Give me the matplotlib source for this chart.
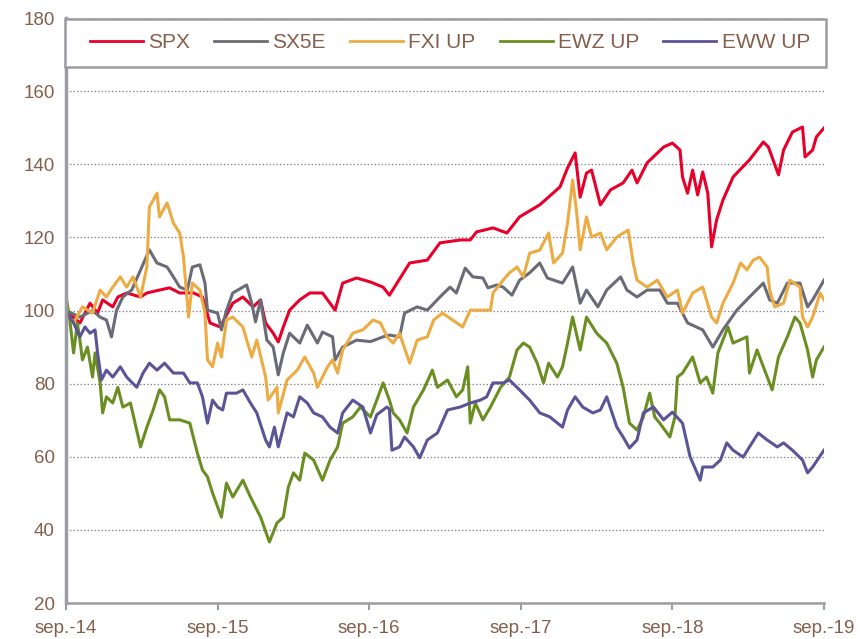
import matplotlib
matplotlib.use("Agg")
import matplotlib.pyplot as plt
from matplotlib.patches import Rectangle

# temps en mois depuis sep.-14 (base 100)
spx_t = [0, 1.1, 1.9, 2.5, 2.9, 3.7, 4.1, 4.8, 5.9, 6.4, 7.4, 8.2, 9.0, 10.1, 10.8,
         11.4, 12.2, 13.2, 14.0, 14.8, 15.4, 15.8, 16.4, 16.8, 17.2, 17.7, 18.5, 19.3,
         20.3, 21.3, 21.9, 23.0, 24.1, 25.1, 25.6, 27.2, 28.6, 29.6, 31.2, 32.0, 32.5,
         33.8, 34.9, 35.9, 37.5, 39.1, 39.7, 40.3, 40.7, 41.2, 41.6, 42.3, 43.1, 44.1,
         44.8, 45.2, 46.0, 47.3, 48.0, 48.6, 48.8, 49.2, 49.6, 50.0, 50.4, 50.8, 51.1,
         51.5, 52.0, 52.8, 54.1, 55.2, 55.6, 56.4, 56.8, 57.5, 58.3, 58.5, 59.1, 59.4, 60]
spx_v = [100, 96.6, 102, 99.3, 102.9, 101, 103.7, 104.8, 103.7, 104.8, 105.6, 106.2,
         104.8, 104.8, 103.7, 96.6, 95.5, 102, 103.7, 101, 102.9, 96.6, 93.8, 91.4, 95.5,
         100.1, 102.9, 104.8, 104.8, 100.1, 107.5, 108.9, 107.8, 106.4, 104.2, 113, 113.8,
         118.5, 119.3, 119.3, 121.5, 122.6, 121.2, 125.6, 128.9, 133.8, 139, 143.1, 131,
         137.6, 138.4, 128.9, 133, 134.9, 138.4, 134.9, 140.4, 144.7, 145.8, 143.9, 136.5,
         132.1, 138.4, 131.6, 137.9, 132.1, 117.4, 124.8, 130.2, 136.5, 141.2, 146.1,
         144.7, 137.1, 143.9, 148.8, 150.2, 142, 143.9, 147.5, 149.9]

sx5e_t = [0, 1.1, 2.1, 2.7, 3.2, 3.6, 4.0, 4.5, 5.2, 5.9, 6.6, 7.2, 8.0, 8.5, 9.0, 9.6,
          10.0, 10.6, 11.0, 11.2, 12.0, 12.3, 12.7, 13.2, 14.3, 14.7, 15.0, 15.4, 15.9,
          16.4, 16.8, 17.2, 17.7, 18.5, 19.1, 19.9, 20.3, 21.1, 21.3, 21.9, 23.0, 24.1,
          25.1, 25.6, 26.4, 26.8, 27.8, 28.6, 29.6, 30.4, 30.9, 31.6, 32.2, 33.0, 33.4,
          34.1, 34.6, 35.3, 35.9, 36.7, 37.5, 38.1, 39.3, 40.1, 40.7, 41.2, 42.1, 42.8,
          43.9, 44.4, 45.2, 46.0, 47.0, 47.6, 48.4, 49.2, 49.9, 50.4, 51.2, 52.0, 53.1,
          54.1, 55.2, 55.7, 56.3, 57.1, 58.1, 58.7, 59.1, 60]
sx5e_v = [100, 98.2, 100, 98.2, 97.4, 92.8, 100, 103.7, 105.6, 111.1, 116.6, 113, 111.9,
          109.2, 106.4, 105.6, 111.9, 112.5, 107.5, 100.1, 99.3, 94.7, 100, 104.8, 107,
          102, 96.9, 102.9, 91.9, 90, 82.4, 88.4, 93.8, 91.1, 96, 91.1, 94.1, 92.8, 86.5,
          90, 91.9, 91.5, 92.8, 93.3, 92.8, 99.3, 101, 100.1, 103.7, 106.4, 104.8, 111.6,
          109.2, 108.9, 106.2, 107, 106.4, 104.2, 108.3, 110.3, 113, 108.9, 107.5, 111.9,
          102, 105.6, 101, 105.6, 109.2, 105.6, 103.7, 105.6, 105.6, 102, 102, 96.6, 95.5,
          94.7, 90, 94.7, 100.1, 103.7, 107.5, 102.9, 102, 107.5, 107.5, 101, 102.9, 108.3]

fxi_t = [0, 0.6, 1.3, 2.1, 2.7, 3.2, 3.7, 4.3, 4.8, 5.3, 5.9, 6.4, 6.6, 7.2, 7.4, 8.0,
         8.5, 9.0, 9.3, 9.7, 10.0, 10.6, 11.0, 11.2, 11.6, 12.0, 12.3, 12.7, 13.2, 14.0,
         14.7, 15.1, 15.8, 16.0, 16.7, 16.8, 17.5, 18.3, 18.9, 19.6, 19.9, 20.7, 21.1,
         21.5, 21.9, 22.7, 23.5, 24.3, 24.9, 25.4, 25.9, 26.4, 27.2, 27.8, 28.6, 29.1,
         29.8, 30.6, 31.4, 32.0, 32.8, 33.6, 33.8, 34.6, 35.1, 35.7, 36.2, 36.7, 37.5,
         38.2, 38.6, 39.3, 39.7, 40.1, 40.4, 40.7, 41.2, 41.6, 42.3, 42.8, 43.6, 44.5,
         44.9, 45.2, 46.0, 46.8, 47.6, 48.4, 48.8, 49.6, 50.4, 51.1, 51.5, 52.0, 52.8,
         53.4, 53.9, 54.4, 54.9, 55.5, 55.7, 56.1, 56.8, 57.3, 58.1, 58.3, 58.7, 59.1,
         59.7, 60]
fxi_v = [100, 96.6, 101, 99.3, 105.6, 103.7, 106.4, 109.2, 106.4, 109.2, 103.7, 111.9,
         128.3, 132.1, 125.6, 129.4, 123.9, 121.2, 114.6, 98.2, 107.5, 105.6, 99.3, 86.5,
         84.6, 91.1, 87.3, 97.4, 98.2, 95.5, 87.3, 91.9, 81.8, 75.5, 79, 72, 81, 83.7,
         87.3, 82.9, 79, 84.6, 86.5, 82.9, 89.2, 93.8, 94.7, 97.4, 96.6, 92.8, 91.1, 93.8,
         85.6, 91.9, 92.8, 97.4, 99.3, 97.4, 95.5, 100.1, 100.1, 100.1, 104.8, 108.3,
         110.3, 111.9, 109.2, 115.7, 116.5, 121.2, 113, 115.7, 123.9, 135.7, 127.5, 116.6,
         125.6, 120.1, 121.2, 116.6, 120.1, 122, 113, 108.3, 106.4, 108.3, 103.7, 105.6,
         99.3, 104.8, 106.4, 98.2, 96.6, 102, 107.5, 113, 111.1, 113.8, 114.6, 111.9,
         105.6, 101, 102, 108.3, 106.4, 98.2, 95.5, 98.2, 104.8, 102.9]

ewz_t = [0, 0.3, 0.6, 0.9, 1.1, 1.3, 1.7, 2.1, 2.3, 2.7, 2.9, 3.2, 3.7, 4.1, 4.5, 5.1,
         5.9, 6.4, 6.9, 7.4, 7.8, 8.2, 9.0, 9.8, 10.4, 10.8, 11.2, 11.6, 12.3, 12.7, 13.2,
         14.0, 14.6, 15.4, 16.1, 16.7, 17.2, 17.6, 18.0, 18.5, 18.9, 19.6, 20.3, 20.9,
         21.5, 21.9, 22.7, 23.3, 24.1, 24.6, 25.1, 25.6, 25.9, 26.4, 27.0, 27.5, 28.3,
         29.0, 29.4, 30.2, 30.9, 31.4, 31.8, 32.0, 32.4, 33.0, 33.6, 34.4, 35.1, 35.7,
         36.2, 36.7, 37.3, 37.8, 38.2, 38.9, 39.3, 39.7, 40.1, 40.7, 41.2, 42.0, 42.8,
         43.6, 44.1, 44.6, 45.2, 45.7, 46.2, 46.6, 47.0, 47.8, 48.2, 48.4, 48.8, 49.6,
         50.2, 50.7, 51.2, 51.6, 52.4, 52.8, 53.9, 54.1, 54.7, 55.2, 55.9, 56.4, 57.1,
         57.7, 58.1, 58.7, 59.1, 59.4, 60]
ewz_v = [104, 97.4, 88.4, 96.6, 91.9, 86.5, 90, 81.8, 88.4, 80.2, 72, 76.4, 74.7, 79,
         73.6, 74.7, 62.7, 68.1, 72.8, 78.3, 76.4, 70.1, 70.1, 69.2, 61, 56.4, 54.5, 50.1,
         43.5, 52.8, 49, 53.6, 49, 43.5, 36.7, 41.9, 43.5, 51.7, 55.6, 53.6, 61, 59.1,
         53.6, 59.1, 62.7, 69.2, 70.9, 73.6, 70.9, 75.5, 80.2, 75.5, 72, 70.1, 66.5, 73.6,
         78.3, 83.7, 79, 81, 76.4, 78.3, 84.6, 69.2, 74.7, 70.1, 73.6, 79, 81.8, 89.2,
         91.1, 90, 85.6, 80.2, 85.6, 81.8, 84.6, 91.1, 98.2, 89.2, 98.2, 93.8, 91.1, 85.6,
         79, 69.2, 67.3, 70.9, 77.4, 70.9, 69.2, 65.4, 70.9, 81.8, 82.9, 87.3, 80.2, 81.8,
         77.4, 88.4, 95.5, 91.1, 92.8, 82.9, 89.2, 84.6, 78.3, 87.3, 92.8, 98.2, 96.6,
         89.2, 81.8, 86.5, 90]

eww_t = [0, 0.6, 1.1, 1.5, 1.9, 2.3, 2.5, 2.8, 3.2, 3.7, 4.3, 4.8, 5.6, 6.1, 6.6, 7.2,
         7.8, 8.5, 9.3, 9.8, 10.4, 10.8, 11.2, 11.6, 12.0, 12.4, 12.7, 13.5, 14.0, 14.6,
         15.1, 15.8, 16.1, 16.5, 16.8, 17.5, 18.0, 18.5, 19.1, 19.6, 20.3, 20.9, 21.5,
         21.9, 22.7, 23.5, 24.1, 24.6, 25.4, 25.6, 25.8, 26.4, 26.8, 27.5, 28.0, 28.6,
         29.4, 30.2, 31.2, 32.0, 32.8, 33.3, 33.8, 34.6, 35.1, 35.9, 36.7, 37.5, 38.3,
         39.3, 39.7, 40.3, 40.9, 41.7, 42.3, 42.8, 43.6, 44.1, 44.6, 45.2, 45.7, 46.5,
         47.3, 48.0, 48.8, 49.4, 50.2, 50.4, 51.2, 51.8, 52.3, 52.8, 53.6, 54.1, 54.8,
         55.5, 56.3, 56.8, 57.5, 58.3, 58.7, 59.1, 60]
eww_v = [100, 96.6, 92.8, 95.5, 93.8, 94.7, 88.4, 81, 83.7, 81.8, 84.6, 81.8, 79, 82.9,
         85.6, 83.7, 85.6, 82.9, 82.9, 80.2, 80.2, 76.4, 69.2, 75.5, 73.6, 72.8, 77.4,
         77.4, 78.3, 74.7, 72, 64.6, 62.7, 68.1, 62.7, 72, 70.9, 76.4, 74.7, 72, 70.9,
         68.1, 66.5, 72, 75.5, 73.6, 66.5, 71.5, 73.6, 73, 61.8, 62.7, 65.4, 62.7, 59.7,
         64.6, 66.5, 72.8, 73.6, 74.7, 75.5, 76.4, 80.2, 80.2, 81, 78.3, 75.5, 72, 70.9,
         68.1, 72.8, 76.4, 73.6, 72, 72.8, 76.4, 68.1, 65.4, 62.4, 64.6, 72, 73.6, 70.1,
         72.2, 69.2, 60, 53.6, 57.2, 57.2, 59.1, 63.8, 61.8, 59.9, 62.7, 66.5, 64.6, 62.7,
         63.8, 61.8, 59.1, 55.6, 57.2, 61.8]

series = [
    ("SPX", spx_t, spx_v, "#e8002a"),
    ("SX5E", sx5e_t, sx5e_v, "#6b6b78"),
    ("FXI UP", fxi_t, fxi_v, "#ecab43"),
    ("EWZ UP", ewz_t, ewz_v, "#6b8e23"),
    ("EWW UP", eww_t, eww_v, "#5b5597"),
]
x_labels = ["sep.-14", "sep.-15", "sep.-16", "sep.-17", "sep.-18", "sep.-19"]

txt = "#835f4c"
gris = "#9c9ca4"
plt.rcParams["font.family"] = ["Liberation Sans", "DejaVu Sans"]

fig = plt.figure(figsize=(8.64, 6.39), dpi=100)
ax = fig.add_axes([0.0764, 0.0563, 0.8773, 0.9155])

lignes = []
for nom, t, v, c in series:
    l, = ax.plot(t, v, color=c, lw=2.2, label=nom, solid_joinstyle="round")
    lignes.append(l)

ax.set_xlim(0, 60)
ax.set_ylim(20, 180)
ax.set_yticks(range(20, 181, 20))
ax.set_xticks(range(0, 61, 12))
ax.set_xticklabels(x_labels)
ax.grid(axis="y", linestyle=(0, (1.2, 1.6)), color="#8a8a8a", lw=0.9)
ax.set_axisbelow(True)

for s in ["top", "right"]:
    ax.spines[s].set_visible(False)
ax.spines["left"].set_color(gris)
ax.spines["left"].set_linewidth(2.5)
ax.spines["bottom"].set_color(gris)
ax.spines["bottom"].set_linewidth(1.8)
ax.tick_params(axis="y", length=0, pad=8, labelsize=13.5, labelcolor=txt)
ax.tick_params(axis="x", length=5, width=1.5, color=gris, pad=7,
               labelsize=13.5, labelcolor=txt)

# cadre de la légende (dépasse un peu l'axe à droite comme dans l'original)
cadre = Rectangle((0.0752, 0.8951), 0.8808, 0.0751, transform=fig.transFigure,
                  facecolor="white", edgecolor=gris, lw=1.8, zorder=2)
fig.patches.append(cadre)

leg = fig.legend(handles=lignes, loc="center left",
                 bbox_to_anchor=(90 / 864, 1 - 43 / 639), ncol=5,
                 frameon=False, fontsize=15, handlelength=2.55,
                 handletextpad=0.25, columnspacing=1.15, borderpad=0.0,
                 borderaxespad=0.0)
leg.set_zorder(5)
for l in leg.get_lines():
    l.set_linewidth(2.0)
for t in leg.get_texts():
    t.set_color(txt)

fig.savefig("out.png", dpi=100)
